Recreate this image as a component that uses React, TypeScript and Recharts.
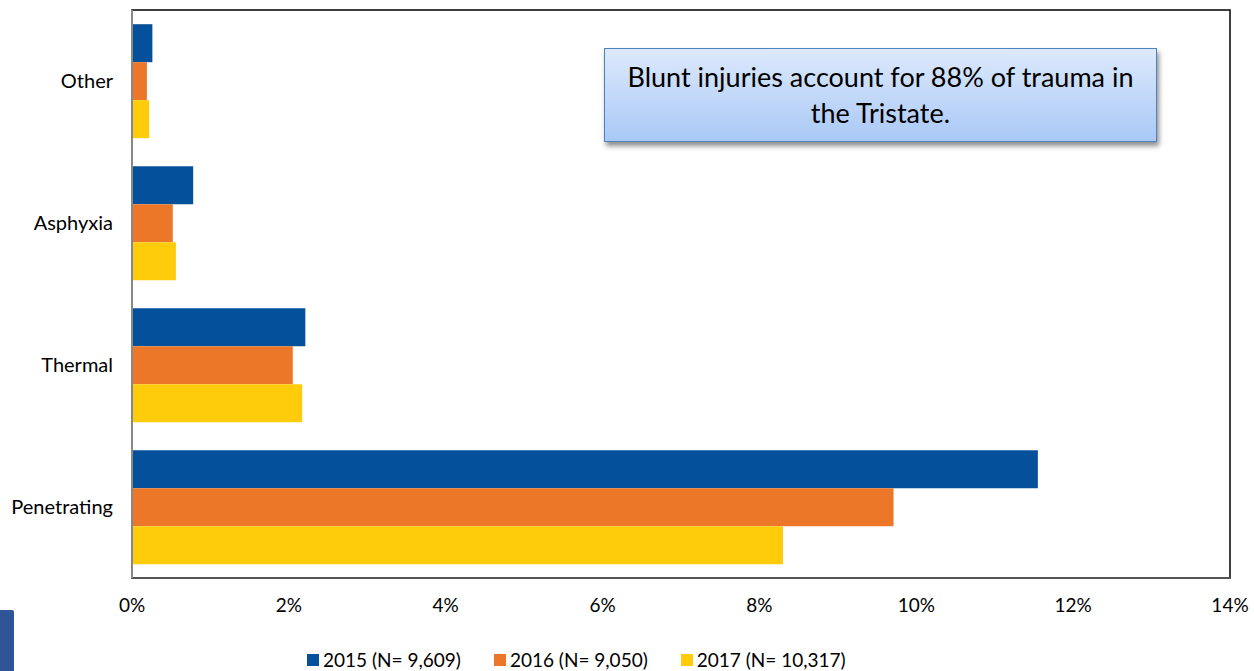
import React from 'react'
import { BarChart, Bar, XAxis, YAxis, ReferenceArea } from 'recharts'

const categories = ['Other', 'Asphyxia', 'Thermal', 'Penetrating']
const values2015 = [0.26, 0.78, 2.21, 11.55]
const values2016 = [0.19, 0.52, 2.05, 9.71]
const values2017 = [0.22, 0.56, 2.17, 8.3]
const xTicks = [0, 2, 4, 6, 8, 10, 12, 14]

const series = [
  { key: 'y2015', name: '2015 (N= 9,609)', color: '#05509A', values: values2015 },
  { key: 'y2016', name: '2016 (N= 9,050)', color: '#ED7728', values: values2016 },
  { key: 'y2017', name: '2017 (N= 10,317)', color: '#FECC0A', values: values2017 },
]

const data = categories.map((name, i) => {
  const row: any = { name }
  series.forEach((s) => (row[s.key] = s.values[i]))
  return row
})

const FONT = 'Lato, "Noto Sans", sans-serif'

export default function App() {
  return (
    <div style={{ position: 'absolute', left: 0, top: 0, width: 1254, height: 671, background: '#fff', fontFamily: FONT, overflow: 'hidden' }}>
      <BarChart
        width={1254}
        height={671}
        data={data}
        layout="vertical"
        margin={{ top: 10, right: 24, bottom: 53, left: 0 }}
        barCategoryGap="10%"
        barGap={0}
      >
        <ReferenceArea x1={0} x2={14} stroke="#000" strokeWidth={1.5} fill="none" ifOverflow="visible" />
        <XAxis
          type="number"
          domain={[0, 14]}
          ticks={xTicks}
          tickFormatter={(v) => `${v}%`}
          height={40}
          tickLine={false}
          tickSize={0}
          tickMargin={21}
          axisLine={{ stroke: '#555', strokeWidth: 2 }}
          tick={{ fill: '#000', fontSize: 19, fontFamily: FONT }}
          interval={0}
        />
        <YAxis
          type="category"
          dataKey="name"
          width={132}
          tickLine={false}
          tickSize={0}
          tickMargin={19}
          axisLine={{ stroke: '#888', strokeWidth: 2 }}
          tick={{ fill: '#000', fontSize: 20, fontFamily: FONT }}
        />
        {series.map((s) => (
          <Bar key={s.key} dataKey={s.key} name={s.name} fill={s.color} isAnimationActive={false} />
        ))}
      </BarChart>

      <div
        style={{
          position: 'absolute',
          left: 604,
          top: 48,
          width: 553,
          height: 94,
          boxSizing: 'border-box',
          border: '1.5px solid #4F81BD',
          background: 'linear-gradient(to bottom, #dde9fc, #a9c9f6)',
          boxShadow: '2px 4px 5px rgba(0,0,0,0.45)',
          display: 'flex',
          alignItems: 'center',
          justifyContent: 'center',
          textAlign: 'center',
          fontSize: 27,
          lineHeight: '36px',
          color: '#000',
        }}
      >
        Blunt injuries account for 88% of trauma in
        <br />
        the Tristate.
      </div>

      <div style={{ position: 'absolute', left: 307, top: 648, display: 'flex', alignItems: 'center', fontSize: 19, color: '#000' }}>
        {series.map((s) => (
          <div key={s.key} style={{ display: 'flex', alignItems: 'center', marginRight: 33 }}>
            <span style={{ display: 'inline-block', width: 12, height: 12, background: s.color, marginRight: 4 }} />
            <span>{s.name}</span>
          </div>
        ))}
      </div>

      <div style={{ position: 'absolute', left: 0, top: 610, width: 14, height: 61, background: '#2F5597', borderTopRightRadius: 2 }} />
    </div>
  )
}
